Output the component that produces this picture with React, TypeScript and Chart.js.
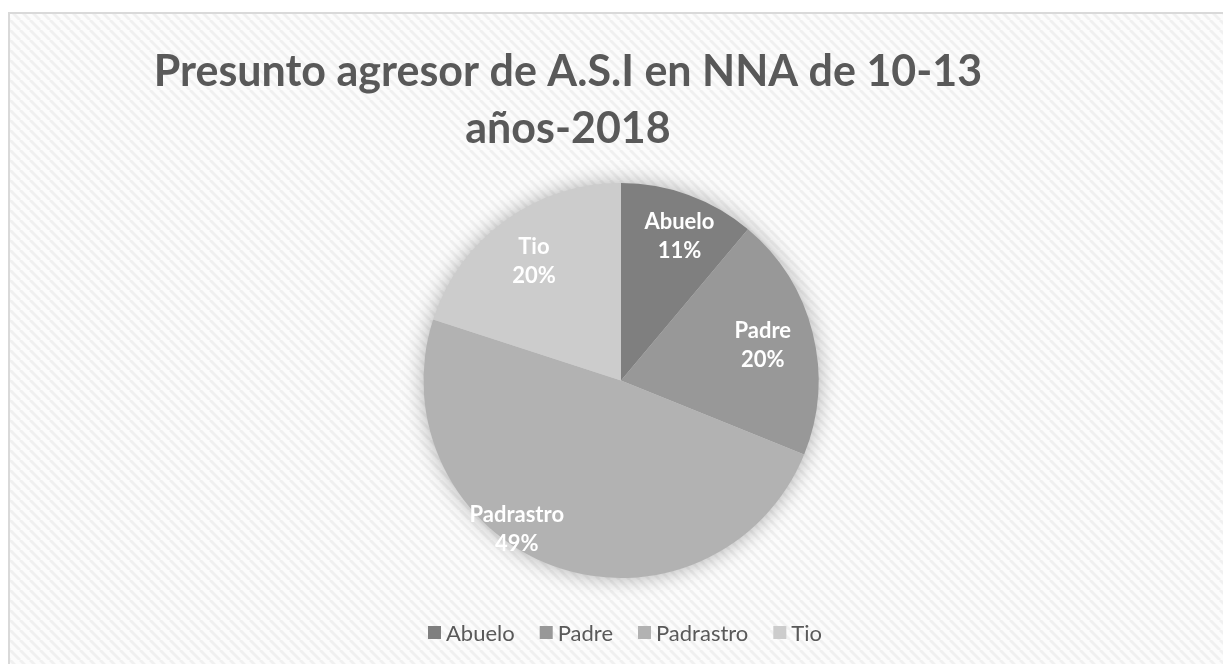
import React, { useEffect, useRef } from "react";
import { Chart, registerables } from "chart.js";

Chart.register(...registerables);

const categories = ["Abuelo", "Padre", "Padrastro", "Tio"];
const counts = [5, 9, 22, 9];
const sliceColors = ["#7f7f7f", "#989898", "#b2b2b2", "#cccccc"];
const titleLines = ["Presunto agresor de A.S.I en NNA de 10-13", "años-2018"];
// label placement per slice: [angle shift in degrees, radius fraction]
const labelPlacement: [number, number][] = [
  [2, 0.79],
  [0, 0.74],
  [15, 0.92],
  [0, 0.75],
];

const FONT = "Lato, 'Open Sans', sans-serif";
const TEXT_COLOR = "#595959";

function makePattern(ctx: CanvasRenderingContext2D) {
  const c = document.createElement("canvas");
  const s = 10;
  c.width = s;
  c.height = s;
  const p = c.getContext("2d")!;
  p.fillStyle = "#fcfcfc";
  p.fillRect(0, 0, s, s);
  p.strokeStyle = "#f0f0f0";
  p.lineWidth = 3;
  for (let k = -1; k <= 1; k++) {
    p.beginPath();
    p.moveTo(k * s, 0);
    p.lineTo(k * s + s, s);
    p.stroke();
  }
  return ctx.createPattern(c, "repeat");
}

const backgroundPlugin = {
  id: "bgPattern",
  beforeDraw(chart: any) {
    const ctx = chart.ctx as CanvasRenderingContext2D;
    const w = chart.width;
    const h = chart.height;
    ctx.save();
    ctx.fillStyle = "#ffffff";
    ctx.fillRect(0, 0, w, h);
    const pat = makePattern(ctx);
    if (pat) ctx.fillStyle = pat;
    ctx.fillRect(10, 14, w - 10, h - 14);
    ctx.fillStyle = "#d9d9d9";
    ctx.fillRect(8, 12, w - 8, 2);
    ctx.fillRect(8, 12, 2, h - 12);
    ctx.restore();
  },
};

const shadowPlugin = {
  id: "pieShadow",
  beforeDatasetsDraw(chart: any) {
    const meta = chart.getDatasetMeta(0);
    const arc = meta.data[0];
    if (!arc) return;
    const ctx = chart.ctx as CanvasRenderingContext2D;
    ctx.save();
    ctx.shadowColor = "rgba(0,0,0,0.33)";
    ctx.shadowBlur = 22;
    ctx.fillStyle = "#cccccc";
    ctx.beginPath();
    ctx.arc(arc.x, arc.y, arc.outerRadius - 1, 0, Math.PI * 2);
    ctx.fill();
    ctx.restore();
  },
};

const labelsPlugin = {
  id: "sliceLabels",
  afterDatasetsDraw(chart: any) {
    const meta = chart.getDatasetMeta(0);
    const data = chart.data.datasets[0].data as number[];
    const total = data.reduce((a, b) => a + b, 0);
    const ctx = chart.ctx as CanvasRenderingContext2D;
    ctx.save();
    ctx.fillStyle = "#ffffff";
    ctx.font = `bold 22px ${FONT}`;
    ctx.textAlign = "center";
    ctx.textBaseline = "middle";
    meta.data.forEach((arc: any, i: number) => {
      const [shift, frac] = labelPlacement[i];
      const a = (arc.startAngle + arc.endAngle) / 2 + (shift * Math.PI) / 180;
      const r = arc.outerRadius * frac;
      const x = arc.x + Math.cos(a) * r;
      const y = arc.y + Math.sin(a) * r;
      const pct = Math.round((data[i] / total) * 100) + "%";
      ctx.fillText(chart.data.labels[i], x, y - 14);
      ctx.fillText(pct, x, y + 15);
    });
    ctx.restore();
  },
};

const titleLegendPlugin = {
  id: "titleLegend",
  afterDraw(chart: any) {
    const ctx = chart.ctx as CanvasRenderingContext2D;
    ctx.save();
    ctx.fillStyle = TEXT_COLOR;
    ctx.textAlign = "center";
    ctx.textBaseline = "alphabetic";
    ctx.font = `bold 43px ${FONT}`;
    ctx.fillText(titleLines[0], 568, 86);
    ctx.fillText(titleLines[1], 568, 143);

    // legend
    ctx.font = `22px ${FONT}`;
    ctx.textAlign = "left";
    const box = 13;
    const gapText = 5;
    const gapItem = 25;
    const labels = chart.data.labels as string[];
    const colors = chart.data.datasets[0].backgroundColor as string[];
    const widths = labels.map((l) => ctx.measureText(l).width);
    const total = widths.reduce((s, w) => s + box + gapText + w, 0) + gapItem * (labels.length - 1);
    let x = 625 - total / 2;
    labels.forEach((l, i) => {
      ctx.fillStyle = colors[i];
      ctx.fillRect(x, 626, box, box);
      x += box + gapText;
      ctx.fillStyle = TEXT_COLOR;
      ctx.fillText(l, x, 641);
      x += widths[i] + gapItem;
    });
    ctx.restore();
  },
};

export default function App() {
  const ref = useRef<HTMLCanvasElement | null>(null);
  useEffect(() => {
    if (!ref.current) return;
    const chart = new Chart(ref.current, {
      type: "pie",
      data: {
        labels: categories,
        datasets: [
          {
            data: counts,
            backgroundColor: sliceColors,
            borderWidth: 0,
            hoverOffset: 0,
          },
        ],
      },
      options: {
        responsive: true,
        maintainAspectRatio: false,
        animation: false,
        layout: { padding: { top: 183, bottom: 86, left: 200, right: 181 } },
        plugins: {
          legend: { display: false },
          title: { display: false },
          tooltip: { enabled: false },
        },
        events: [],
      },
      plugins: [backgroundPlugin, shadowPlugin, labelsPlugin, titleLegendPlugin],
    });
    return () => chart.destroy();
  }, []);
  return (
    <div style={{ position: "fixed", left: 0, top: 0, width: 1223, height: 664 }}>
      <canvas ref={ref} />
    </div>
  );
}
